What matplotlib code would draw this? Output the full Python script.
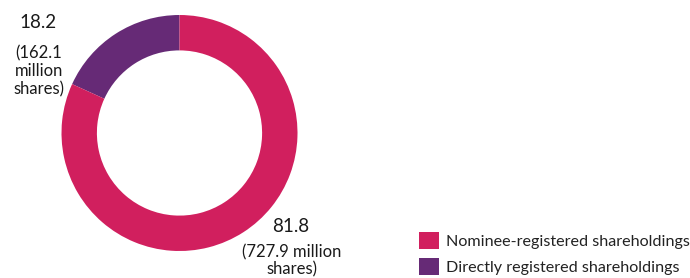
import numpy as np
import matplotlib
matplotlib.use("Agg")
from matplotlib import pyplot as plt

# shares by registration type, percent and million shares
labels = ["Directly registered shareholdings", "Nominee-registered shareholdings"]
pct = [18.2, 81.8]
mshares = [162.1, 727.9]
colors = ["#662a76", "#d11f5e"]

plt.rcParams['font.family'] = ['Lato', 'DejaVu Sans']

fig = plt.figure(figsize=(6.9, 2.78), dpi=100)
ax = fig.add_axes([61.5 / 690, 27 / 278, 236 / 690, 236 / 278])
wedges, _ = ax.pie(pct, colors=colors, startangle=90, counterclock=True,
                   radius=1, wedgeprops=dict(width=0.3, edgecolor='none'))
ax.set_xlim(-1, 1)
ax.set_ylim(-1, 1)
ax.set_aspect('equal')
ax.axis('off')

def fy(px):
    return 1 - px / 278

# value labels
fig.text(38 / 690, fy(23), f"{pct[0]}", ha='center', va='center', fontsize=13.5, color='#1a1a1a')
fig.text(39 / 690, fy(71), f"({mshares[0]}\nmillion\nshares)", ha='center', va='center',
         fontsize=12, color='#1a1a1a', linespacing=1.15)
fig.text(291 / 690, fy(226), f"{pct[1]}", ha='center', va='center', fontsize=13.5, color='#1a1a1a')
fig.text(291.5 / 690, fy(261), f"({mshares[1]} million\nshares)", ha='center', va='center',
         fontsize=12, color='#1a1a1a', linespacing=1.05)

# legend, nominee first
fig.legend([wedges[1], wedges[0]], [labels[1], labels[0]], loc='lower left',
           bbox_to_anchor=(419 / 690, fy(275)), frameon=False, fontsize=11.6,
           handlelength=1.25, handleheight=1.25, handletextpad=0.4,
           labelspacing=0.55, borderpad=0, borderaxespad=0, labelcolor='#222222')

fig.savefig("out.png", dpi=100)
